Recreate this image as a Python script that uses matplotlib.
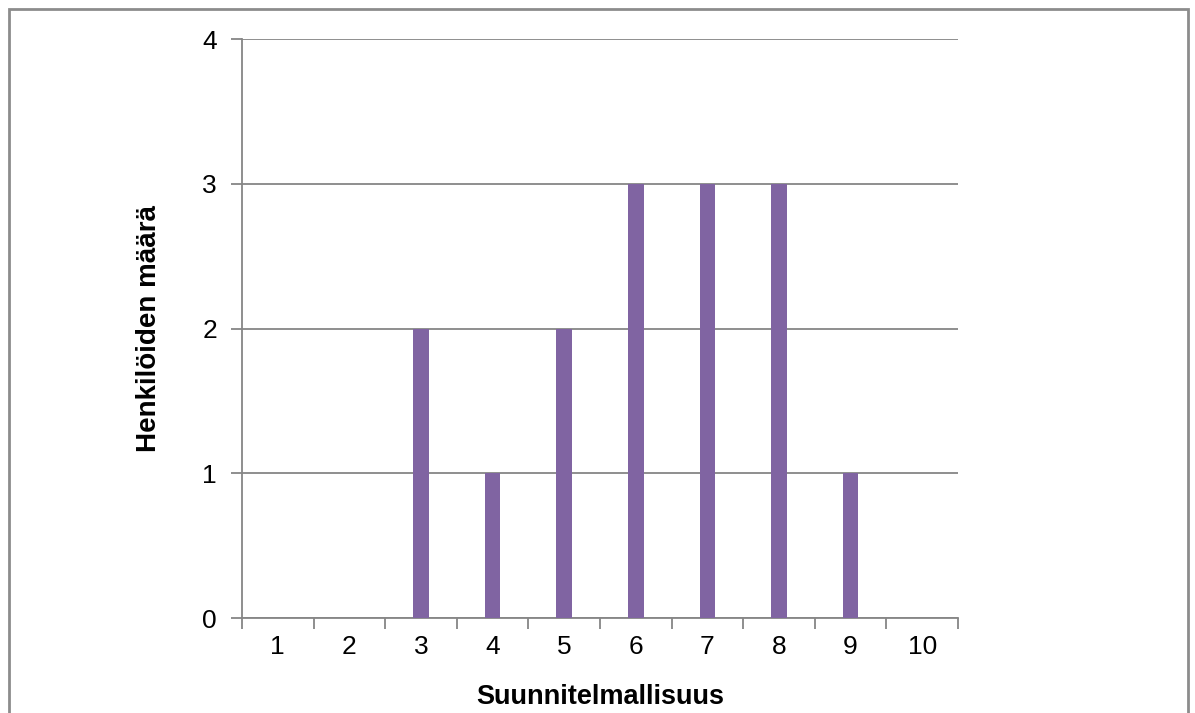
import matplotlib.pyplot as plt
from matplotlib.patches import Rectangle

# 数据
categories = ['1', '2', '3', '4', '5', '6', '7', '8', '9', '10']
counts = [0, 0, 2, 1, 2, 3, 3, 3, 1, 0]
y_ticks = [0, 1, 2, 3, 4]

plt.rcParams['font.family'] = ['Liberation Sans', 'DejaVu Sans']

fig = plt.figure(figsize=(11.95, 7.13), dpi=100)
ax = fig.add_axes([242 / 1195, 95 / 713, 716 / 1195, 579 / 713])

grid_color = '#868686'
x = list(range(len(categories)))
ax.bar(x, counts, width=0.22, color='#8064A2', zorder=3)

ax.set_xlim(-0.5, len(categories) - 0.5)
ax.set_ylim(0, 4)
ax.set_yticks(y_ticks)
ax.yaxis.grid(True, color=grid_color, linewidth=1.3, zorder=1)

# x 轴刻度放在分类边界上, 标签放在中间
ax.set_xticks([i - 0.5 for i in range(len(categories) + 1)])
ax.set_xticklabels([])
ax.set_xticks(x, minor=True)
ax.set_xticklabels(categories, minor=True)
ax.tick_params(axis='x', which='major', length=8, width=1.3, color=grid_color)
ax.tick_params(axis='x', which='minor', length=0, pad=12, labelsize=19)
ax.tick_params(axis='y', length=8, width=1.3, color=grid_color, pad=10, labelsize=19)

for side in ['top', 'right']:
    ax.spines[side].set_visible(False)
for side in ['left', 'bottom']:
    ax.spines[side].set_color(grid_color)
    ax.spines[side].set_linewidth(1.3)

ax.set_xlabel('Suunnitelmallisuus', fontsize=19.5, fontweight='bold', labelpad=18)
ax.set_ylabel('Henkilöiden määrä', fontsize=20, fontweight='bold', labelpad=29)

# 外框
fig.patches.append(Rectangle((9 / 1195, -0.01), 1179 / 1195, 1 - 9 / 713 + 0.01,
                             transform=fig.transFigure, fill=False,
                             edgecolor='#8c8c8c', linewidth=2))

plt.savefig('out.png', dpi=100)
